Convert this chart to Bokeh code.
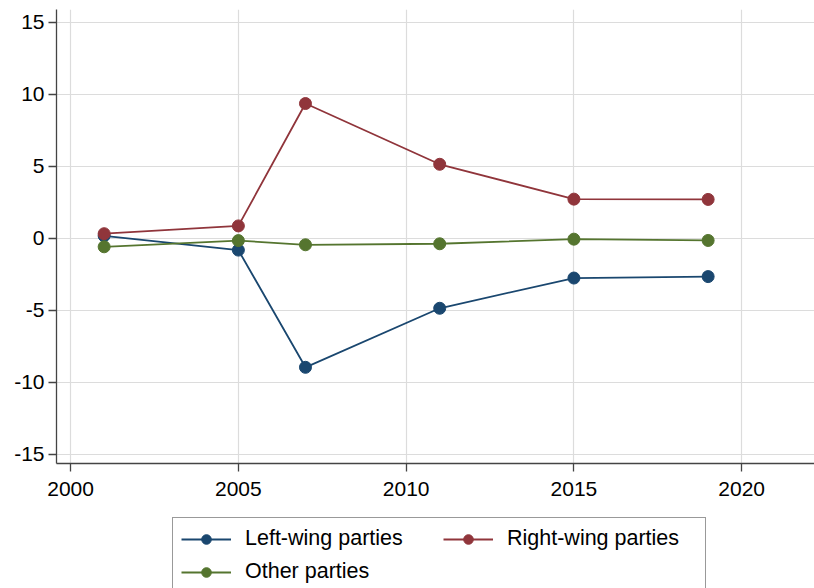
from bokeh.plotting import figure
from bokeh.layouts import column
from bokeh.models import Range1d, Legend, LegendItem, FixedTicker
from bokeh.embed import file_html
from bokeh.resources import INLINE

years = [2001, 2005, 2007, 2011, 2015, 2019]
left_wing = [0.18, -0.81, -8.95, -4.85, -2.75, -2.65]
right_wing = [0.33, 0.87, 9.37, 5.15, 2.73, 2.71]
other = [-0.58, -0.15, -0.44, -0.37, -0.05, -0.14]

x_ticks = [2000, 2005, 2010, 2015, 2020]
y_ticks = [-15, -10, -5, 0, 5, 10, 15]

names = ["Left-wing parties", "Right-wing parties", "Other parties"]
colors = ["#1a476f", "#90353b", "#55752f"]

FONT = "Liberation Sans"

p = figure(width=814, height=510, output_backend="svg", toolbar_location=None,
           x_range=Range1d(1999.58, 2022.17), y_range=Range1d(-15.63, 15.9),
           min_border_left=56, min_border_right=0, min_border_top=9, min_border_bottom=47)
p.outline_line_color = None
p.background_fill_color = "white"
p.border_fill_color = "white"

for ax, ticks in ((p.xaxis[0], x_ticks), (p.yaxis[0], y_ticks)):
    ax.ticker = FixedTicker(ticks=ticks)
    ax.minor_tick_line_color = None
    ax.major_tick_in = 0
    ax.major_tick_out = 8
    ax.axis_line_color = "#444444"
    ax.axis_line_width = 1.3
    ax.major_tick_line_color = "#444444"
    ax.major_tick_line_width = 1.3
    ax.major_label_text_font = FONT
    ax.major_label_text_font_size = "21px"
    ax.major_label_text_color = "black"
p.xaxis.major_label_standoff = 10
p.yaxis.major_label_standoff = 4
p.yaxis.major_label_overrides = {t: str(t) for t in y_ticks}

p.xgrid.ticker = FixedTicker(ticks=x_ticks)
p.ygrid.ticker = FixedTicker(ticks=y_ticks)
p.grid.grid_line_color = "#dcdcdc"
p.grid.grid_line_width = 1.2

series = [left_wing, right_wing, other]
for name, vals, col in zip(names, series, colors):
    p.line(years, vals, line_color=col, line_width=1.8)
    p.scatter(years, vals, size=12, fill_color=col, line_color=col)

# legend strip below the plot
q = figure(width=814, height=78, output_backend="svg", toolbar_location=None,
           x_axis_type=None, y_axis_type=None,
           x_range=Range1d(0, 1), y_range=Range1d(0, 1),
           min_border_left=0, min_border_right=0, min_border_top=0, min_border_bottom=0)
q.grid.visible = False
q.outline_line_color = None
q.border_fill_color = "white"
q.background_fill_color = "white"

items = []
for name, col in zip(names, colors):
    # legend-only renderers: one point placed outside the visible range
    ln = q.line([-5, -4], [-5, -5], line_color=col, line_width=1.8)
    sc = q.scatter([-5], [-5], size=11, fill_color=col, line_color=col)
    items.append(LegendItem(label=name, renderers=[ln, sc]))

legend = Legend(items=items, orientation="horizontal", ncols=2,
                location=(116, -5),
                label_text_font=FONT, label_text_font_size="21.5px",
                label_text_color="black",
                glyph_width=50, glyph_height=24, label_height=24,
                label_width=190, label_standoff=14,
                spacing=8, padding=8, margin=0,
                border_line_color="#333333", border_line_width=1.3,
                background_fill_color="white", background_fill_alpha=1.0)
q.add_layout(legend, "center")

layout = column(p, q, spacing=0)
open("out.html", "w").write(file_html(layout, INLINE))
